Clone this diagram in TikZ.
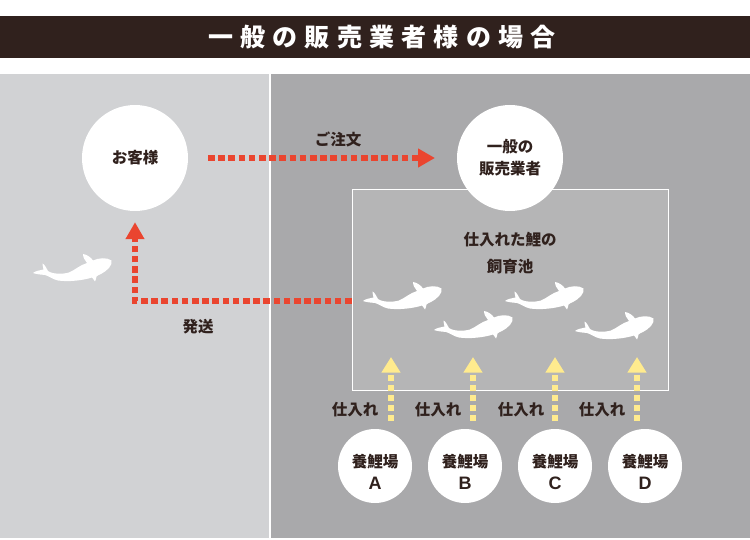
\documentclass[tikz,border=0pt]{standalone}
\usepackage{fontspec}
\setmainfont{Noto Sans CJK JP}
\newfontfamily\titlefont[LetterSpace=29]{Noto Sans CJK JP}
\newfontfamily\latinfont{Liberation Sans}
\usepackage{xcolor}
\usetikzlibrary{positioning,arrows.meta}
\definecolor{barcol}{HTML}{30211D}
\definecolor{leftcol}{HTML}{D1D2D4}
\definecolor{rightcol}{HTML}{A9A9AB}
\definecolor{pondcol}{HTML}{B5B5B6}
\definecolor{redcol}{HTML}{EA452F}
\definecolor{yellowcol}{HTML}{FFEB8E}
\newcommand{\farmtext}[1]{\rule{0pt}{25pt}養鯉場\\{\latinfont\fontsize{18}{22}\selectfont #1}}

\tikzset{
	place/.style={circle, fill=white, draw=none, inner sep=0pt, align=center, text=barcol, font=\fontsize{15.5}{22}\selectfont\bfseries},
	lbl/.style={text=barcol, inner sep=0pt, align=center, font=\fontsize{15.5}{27}\selectfont\bfseries},
	route/.style={draw=redcol, line width=6.5pt, dash pattern=on 6.5pt off 3.7pt, -{Triangle[length=17pt,width=18pt,fill=redcol]}},
	stock/.style={draw=yellowcol, line width=6pt, dash pattern=on 6pt off 4pt, -{Triangle[length=15.5pt,width=18pt,fill=yellowcol]}},
	fish/.pic={
		\fill[white] (0,0) .. controls (3,-2.5) and (7,-2.5) .. (10.5,-3.5)
			.. controls (10.5,-6) and (9,-7.5) .. (9.5,-9.5)
			.. controls (12,-8.5) and (13,-5) .. (15,-2)
			.. controls (19,1) and (29,1.5) .. (36,-0.5)
			.. controls (42,-3) and (47,-8) .. (54,-10)
			.. controls (52,-13) and (50,-15) .. (50,-19)
			.. controls (54,-18.5) and (58,-15.5) .. (60,-12.5)
			.. controls (65,-15) and (74,-16) .. (78.5,-12.5)
			.. controls (80,-8) and (74,-2) .. (68,1)
			.. controls (66,2) and (64,2.5) .. (63.5,3.5)
			.. controls (63.5,5) and (62.5,7) .. (62,8.5)
			.. controls (60.5,6.5) and (60,5.5) .. (59,4.5)
			.. controls (50,7.5) and (35,9) .. (25,7.5)
			.. controls (20,6.5) and (16,3) .. (12,2)
			.. controls (8,1.5) and (4,1.5) .. (0,0) -- cycle;
	}
}

\begin{document}
\begin{tikzpicture}[x=1pt, y=-1pt]
	\useasboundingbox (0,0) rectangle (750,540);
	% panels
	\fill[white] (0,0) rectangle (750,540);
	\fill[barcol] (0,16) rectangle (750,58);
	\fill[leftcol] (0,74) rectangle (269,538);
	\fill[rightcol] (270.5,74) rectangle (750,538);

	\node[text=white, inner sep=0pt, font=\fontsize{25}{25}\selectfont\titlefont\bfseries] (title) at (382,37) {一般の販売業者様の場合};

	% pond
	\node[draw=white, fill=pondcol, line width=1pt, minimum width=316pt, minimum height=200pt, inner sep=0pt] (pond) at (510,290) {};
	\node[lbl] (pondname) at (510,253.5) {仕入れた鯉の\\飼育池};

	\node[place, minimum size=106pt] (customer) at (135,158) {お客様};
	\node[place, minimum size=106pt] (seller) at (510,158) {一般の\\販売業者};

	\node[place, minimum size=74pt] (farma) at (375,466) {\farmtext{A}};
	\node[place, minimum size=74pt] (farmb) at (465,466) {\farmtext{B}};
	\node[place, minimum size=74pt] (farmc) at (555,466) {\farmtext{C}};
	\node[place, minimum size=74pt] (farmd) at (645,466) {\farmtext{D}};

	% fish
	\pic at (33,273) {fish};
	\pic at (363,301) {fish};
	\pic at (434,330) {fish};
	\pic at (505,301) {fish};
	\pic at (575,331) {fish};

	% connector ends
	\coordinate (orderstart) at (208,158);
	\coordinate (orderend) at (435,158);
	\coordinate (corner) at (135,301);
	\coordinate (sa0) at (391,421);
	\coordinate (sa1) at (391,357);
	\coordinate (sb0) at (473,421);
	\coordinate (sb1) at (473,357);
	\coordinate (sc0) at (555,421);
	\coordinate (sc1) at (555,357);
	\coordinate (sd0) at (637,421);
	\coordinate (sd1) at (637,357);

	\draw[route] (orderstart) -- (orderend);
	\draw[route, shorten >=11pt] (pond.west |- corner) -- (corner) -- (customer.south);

	\draw[stock] (sa0) -- (sa1);
	\draw[stock] (sb0) -- (sb1);
	\draw[stock] (sc0) -- (sc1);
	\draw[stock] (sd0) -- (sd1);

	\node[lbl] (order) at (338,139) {ご注文};
	\node[lbl] (ship) at (198,327) {発送};
	\node[lbl] (buya) at (355,410) {仕入れ};
	\node[lbl] (buyb) at (438,410) {仕入れ};
	\node[lbl] (buyc) at (521,410) {仕入れ};
	\node[lbl] (buyd) at (602,410) {仕入れ};
\end{tikzpicture}
\end{document}
